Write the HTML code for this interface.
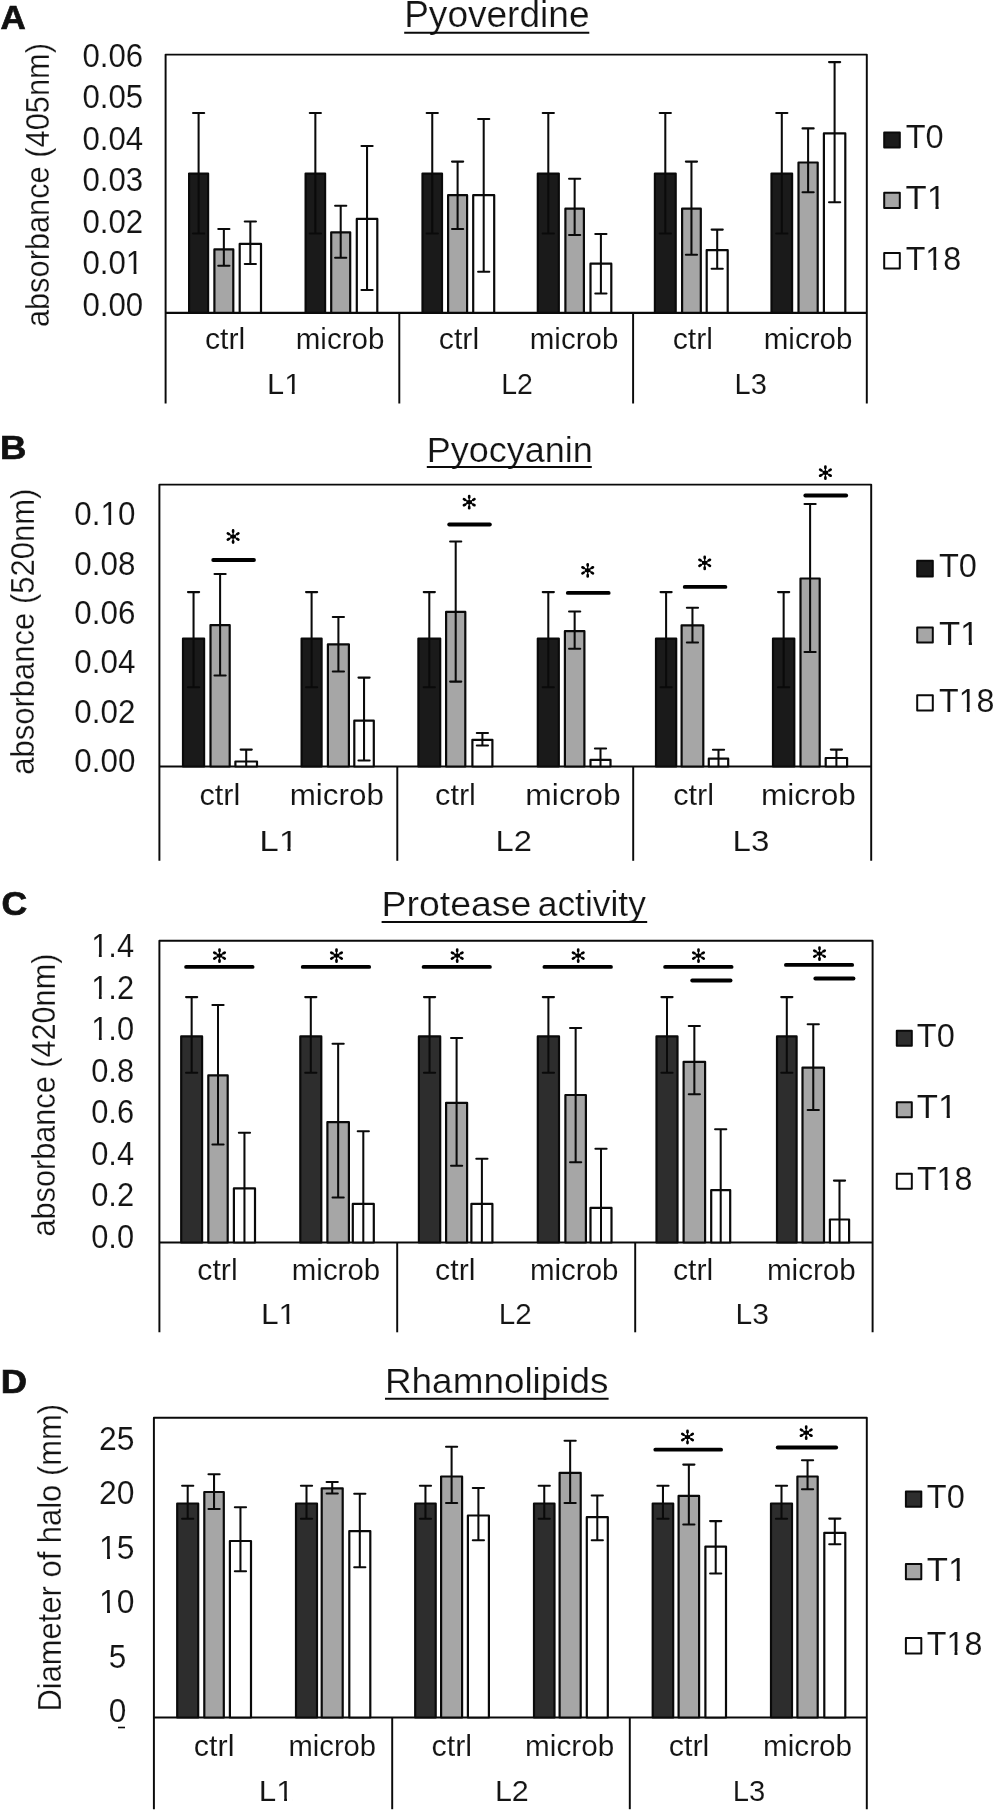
<!DOCTYPE html>
<html><head><meta charset="utf-8"><title>Figure</title>
<style>
html,body{margin:0;padding:0;background:#fff;}
body{width:995px;height:1811px;overflow:hidden;}
svg{display:block;will-change:transform;}
svg text{font-family:"Liberation Sans",sans-serif;}
</style></head><body>
<svg width="995" height="1811" viewBox="0 0 995 1811">
<rect x="0" y="0" width="995" height="1811" fill="#ffffff"/>
<path d="M165.60,403.50 V54.60 H866.80 V403.50" fill="none" stroke="#0a0a0a" stroke-width="1.95" stroke-linejoin="round"/>
<line x1="165.60" y1="312.80" x2="866.80" y2="312.80" stroke="#0a0a0a" stroke-width="2.15" stroke-linecap="butt"/>
<line x1="399.30" y1="312.80" x2="399.30" y2="403.50" stroke="#0a0a0a" stroke-width="1.95" stroke-linecap="butt"/>
<line x1="633.10" y1="312.80" x2="633.10" y2="403.50" stroke="#0a0a0a" stroke-width="1.95" stroke-linecap="butt"/>
<rect x="189.10" y="173.60" width="19.00" height="139.20" fill="#1a1a1a" stroke="#0a0a0a" stroke-width="2.2" stroke-linejoin="round"/>
<rect x="214.40" y="249.40" width="18.90" height="63.40" fill="#a6a6a6" stroke="#0a0a0a" stroke-width="2.2" stroke-linejoin="round"/>
<rect x="239.70" y="243.90" width="21.30" height="68.90" fill="#ffffff" stroke="#0a0a0a" stroke-width="2.2" stroke-linejoin="round"/>
<rect x="305.60" y="173.60" width="19.50" height="139.20" fill="#1a1a1a" stroke="#0a0a0a" stroke-width="2.2" stroke-linejoin="round"/>
<rect x="331.20" y="232.30" width="19.00" height="80.50" fill="#a6a6a6" stroke="#0a0a0a" stroke-width="2.2" stroke-linejoin="round"/>
<rect x="356.80" y="218.90" width="20.50" height="93.90" fill="#ffffff" stroke="#0a0a0a" stroke-width="2.2" stroke-linejoin="round"/>
<rect x="422.50" y="173.60" width="19.50" height="139.20" fill="#1a1a1a" stroke="#0a0a0a" stroke-width="2.2" stroke-linejoin="round"/>
<rect x="448.10" y="195.20" width="19.00" height="117.60" fill="#a6a6a6" stroke="#0a0a0a" stroke-width="2.2" stroke-linejoin="round"/>
<rect x="473.20" y="195.20" width="21.00" height="117.60" fill="#ffffff" stroke="#0a0a0a" stroke-width="2.2" stroke-linejoin="round"/>
<rect x="537.80" y="173.60" width="21.00" height="139.20" fill="#1a1a1a" stroke="#0a0a0a" stroke-width="2.2" stroke-linejoin="round"/>
<rect x="565.40" y="208.70" width="18.50" height="104.10" fill="#a6a6a6" stroke="#0a0a0a" stroke-width="2.2" stroke-linejoin="round"/>
<rect x="590.50" y="263.70" width="20.80" height="49.10" fill="#ffffff" stroke="#0a0a0a" stroke-width="2.2" stroke-linejoin="round"/>
<rect x="654.90" y="173.60" width="20.80" height="139.20" fill="#1a1a1a" stroke="#0a0a0a" stroke-width="2.2" stroke-linejoin="round"/>
<rect x="682.10" y="208.70" width="18.70" height="104.10" fill="#a6a6a6" stroke="#0a0a0a" stroke-width="2.2" stroke-linejoin="round"/>
<rect x="706.70" y="250.10" width="21.00" height="62.70" fill="#ffffff" stroke="#0a0a0a" stroke-width="2.2" stroke-linejoin="round"/>
<rect x="771.50" y="173.60" width="20.60" height="139.20" fill="#1a1a1a" stroke="#0a0a0a" stroke-width="2.2" stroke-linejoin="round"/>
<rect x="798.50" y="162.50" width="19.20" height="150.30" fill="#a6a6a6" stroke="#0a0a0a" stroke-width="2.2" stroke-linejoin="round"/>
<rect x="823.90" y="133.40" width="21.40" height="179.40" fill="#ffffff" stroke="#0a0a0a" stroke-width="2.2" stroke-linejoin="round"/>
<line x1="198.60" y1="112.90" x2="198.60" y2="233.50" stroke="#0a0a0a" stroke-width="2.05" stroke-linecap="butt"/>
<line x1="193.00" y1="112.90" x2="204.20" y2="112.90" stroke="#0a0a0a" stroke-width="2.05" stroke-linecap="round"/>
<line x1="193.00" y1="233.50" x2="204.20" y2="233.50" stroke="#0a0a0a" stroke-width="2.05" stroke-linecap="round"/>
<line x1="223.85" y1="228.90" x2="223.85" y2="265.80" stroke="#0a0a0a" stroke-width="2.05" stroke-linecap="butt"/>
<line x1="218.25" y1="228.90" x2="229.45" y2="228.90" stroke="#0a0a0a" stroke-width="2.05" stroke-linecap="round"/>
<line x1="218.25" y1="265.80" x2="229.45" y2="265.80" stroke="#0a0a0a" stroke-width="2.05" stroke-linecap="round"/>
<line x1="250.35" y1="221.40" x2="250.35" y2="264.00" stroke="#0a0a0a" stroke-width="2.05" stroke-linecap="butt"/>
<line x1="244.75" y1="221.40" x2="255.95" y2="221.40" stroke="#0a0a0a" stroke-width="2.05" stroke-linecap="round"/>
<line x1="244.75" y1="264.00" x2="255.95" y2="264.00" stroke="#0a0a0a" stroke-width="2.05" stroke-linecap="round"/>
<line x1="315.35" y1="112.90" x2="315.35" y2="233.50" stroke="#0a0a0a" stroke-width="2.05" stroke-linecap="butt"/>
<line x1="309.75" y1="112.90" x2="320.95" y2="112.90" stroke="#0a0a0a" stroke-width="2.05" stroke-linecap="round"/>
<line x1="309.75" y1="233.50" x2="320.95" y2="233.50" stroke="#0a0a0a" stroke-width="2.05" stroke-linecap="round"/>
<line x1="340.70" y1="205.80" x2="340.70" y2="257.70" stroke="#0a0a0a" stroke-width="2.05" stroke-linecap="butt"/>
<line x1="335.10" y1="205.80" x2="346.30" y2="205.80" stroke="#0a0a0a" stroke-width="2.05" stroke-linecap="round"/>
<line x1="335.10" y1="257.70" x2="346.30" y2="257.70" stroke="#0a0a0a" stroke-width="2.05" stroke-linecap="round"/>
<line x1="367.05" y1="146.00" x2="367.05" y2="289.90" stroke="#0a0a0a" stroke-width="2.05" stroke-linecap="butt"/>
<line x1="361.45" y1="146.00" x2="372.65" y2="146.00" stroke="#0a0a0a" stroke-width="2.05" stroke-linecap="round"/>
<line x1="361.45" y1="289.90" x2="372.65" y2="289.90" stroke="#0a0a0a" stroke-width="2.05" stroke-linecap="round"/>
<line x1="432.25" y1="112.90" x2="432.25" y2="233.50" stroke="#0a0a0a" stroke-width="2.05" stroke-linecap="butt"/>
<line x1="426.65" y1="112.90" x2="437.85" y2="112.90" stroke="#0a0a0a" stroke-width="2.05" stroke-linecap="round"/>
<line x1="426.65" y1="233.50" x2="437.85" y2="233.50" stroke="#0a0a0a" stroke-width="2.05" stroke-linecap="round"/>
<line x1="457.60" y1="161.60" x2="457.60" y2="228.90" stroke="#0a0a0a" stroke-width="2.05" stroke-linecap="butt"/>
<line x1="452.00" y1="161.60" x2="463.20" y2="161.60" stroke="#0a0a0a" stroke-width="2.05" stroke-linecap="round"/>
<line x1="452.00" y1="228.90" x2="463.20" y2="228.90" stroke="#0a0a0a" stroke-width="2.05" stroke-linecap="round"/>
<line x1="483.70" y1="118.90" x2="483.70" y2="271.80" stroke="#0a0a0a" stroke-width="2.05" stroke-linecap="butt"/>
<line x1="478.10" y1="118.90" x2="489.30" y2="118.90" stroke="#0a0a0a" stroke-width="2.05" stroke-linecap="round"/>
<line x1="478.10" y1="271.80" x2="489.30" y2="271.80" stroke="#0a0a0a" stroke-width="2.05" stroke-linecap="round"/>
<line x1="548.30" y1="112.90" x2="548.30" y2="233.50" stroke="#0a0a0a" stroke-width="2.05" stroke-linecap="butt"/>
<line x1="542.70" y1="112.90" x2="553.90" y2="112.90" stroke="#0a0a0a" stroke-width="2.05" stroke-linecap="round"/>
<line x1="542.70" y1="233.50" x2="553.90" y2="233.50" stroke="#0a0a0a" stroke-width="2.05" stroke-linecap="round"/>
<line x1="574.65" y1="178.70" x2="574.65" y2="235.00" stroke="#0a0a0a" stroke-width="2.05" stroke-linecap="butt"/>
<line x1="569.05" y1="178.70" x2="580.25" y2="178.70" stroke="#0a0a0a" stroke-width="2.05" stroke-linecap="round"/>
<line x1="569.05" y1="235.00" x2="580.25" y2="235.00" stroke="#0a0a0a" stroke-width="2.05" stroke-linecap="round"/>
<line x1="600.90" y1="233.90" x2="600.90" y2="293.40" stroke="#0a0a0a" stroke-width="2.05" stroke-linecap="butt"/>
<line x1="595.30" y1="233.90" x2="606.50" y2="233.90" stroke="#0a0a0a" stroke-width="2.05" stroke-linecap="round"/>
<line x1="595.30" y1="293.40" x2="606.50" y2="293.40" stroke="#0a0a0a" stroke-width="2.05" stroke-linecap="round"/>
<line x1="665.30" y1="112.90" x2="665.30" y2="233.50" stroke="#0a0a0a" stroke-width="2.05" stroke-linecap="butt"/>
<line x1="659.70" y1="112.90" x2="670.90" y2="112.90" stroke="#0a0a0a" stroke-width="2.05" stroke-linecap="round"/>
<line x1="659.70" y1="233.50" x2="670.90" y2="233.50" stroke="#0a0a0a" stroke-width="2.05" stroke-linecap="round"/>
<line x1="691.45" y1="161.60" x2="691.45" y2="254.70" stroke="#0a0a0a" stroke-width="2.05" stroke-linecap="butt"/>
<line x1="685.85" y1="161.60" x2="697.05" y2="161.60" stroke="#0a0a0a" stroke-width="2.05" stroke-linecap="round"/>
<line x1="685.85" y1="254.70" x2="697.05" y2="254.70" stroke="#0a0a0a" stroke-width="2.05" stroke-linecap="round"/>
<line x1="717.20" y1="229.60" x2="717.20" y2="268.80" stroke="#0a0a0a" stroke-width="2.05" stroke-linecap="butt"/>
<line x1="711.60" y1="229.60" x2="722.80" y2="229.60" stroke="#0a0a0a" stroke-width="2.05" stroke-linecap="round"/>
<line x1="711.60" y1="268.80" x2="722.80" y2="268.80" stroke="#0a0a0a" stroke-width="2.05" stroke-linecap="round"/>
<line x1="781.80" y1="112.90" x2="781.80" y2="233.50" stroke="#0a0a0a" stroke-width="2.05" stroke-linecap="butt"/>
<line x1="776.20" y1="112.90" x2="787.40" y2="112.90" stroke="#0a0a0a" stroke-width="2.05" stroke-linecap="round"/>
<line x1="776.20" y1="233.50" x2="787.40" y2="233.50" stroke="#0a0a0a" stroke-width="2.05" stroke-linecap="round"/>
<line x1="808.10" y1="128.40" x2="808.10" y2="192.30" stroke="#0a0a0a" stroke-width="2.05" stroke-linecap="butt"/>
<line x1="802.50" y1="128.40" x2="813.70" y2="128.40" stroke="#0a0a0a" stroke-width="2.05" stroke-linecap="round"/>
<line x1="802.50" y1="192.30" x2="813.70" y2="192.30" stroke="#0a0a0a" stroke-width="2.05" stroke-linecap="round"/>
<line x1="834.60" y1="62.10" x2="834.60" y2="202.30" stroke="#0a0a0a" stroke-width="2.05" stroke-linecap="butt"/>
<line x1="829.00" y1="62.10" x2="840.20" y2="62.10" stroke="#0a0a0a" stroke-width="2.05" stroke-linecap="round"/>
<line x1="829.00" y1="202.30" x2="840.20" y2="202.30" stroke="#0a0a0a" stroke-width="2.05" stroke-linecap="round"/>
<path d="M159.40,860.80 V484.60 H871.20 V860.80" fill="none" stroke="#0a0a0a" stroke-width="1.95" stroke-linejoin="round"/>
<line x1="159.40" y1="766.50" x2="871.20" y2="766.50" stroke="#0a0a0a" stroke-width="2.15" stroke-linecap="butt"/>
<line x1="397.30" y1="766.50" x2="397.30" y2="860.80" stroke="#0a0a0a" stroke-width="1.95" stroke-linecap="butt"/>
<line x1="633.20" y1="766.50" x2="633.20" y2="860.80" stroke="#0a0a0a" stroke-width="1.95" stroke-linecap="butt"/>
<rect x="183.00" y="638.60" width="21.10" height="127.90" fill="#1a1a1a" stroke="#0a0a0a" stroke-width="2.2" stroke-linejoin="round"/>
<rect x="210.50" y="625.10" width="19.20" height="141.40" fill="#a6a6a6" stroke="#0a0a0a" stroke-width="2.2" stroke-linejoin="round"/>
<rect x="235.40" y="761.50" width="21.60" height="5.00" fill="#ffffff" stroke="#0a0a0a" stroke-width="2.2" stroke-linejoin="round"/>
<rect x="301.60" y="638.60" width="20.00" height="127.90" fill="#1a1a1a" stroke="#0a0a0a" stroke-width="2.2" stroke-linejoin="round"/>
<rect x="327.90" y="644.30" width="21.00" height="122.20" fill="#a6a6a6" stroke="#0a0a0a" stroke-width="2.2" stroke-linejoin="round"/>
<rect x="354.30" y="720.70" width="19.50" height="45.80" fill="#ffffff" stroke="#0a0a0a" stroke-width="2.2" stroke-linejoin="round"/>
<rect x="418.40" y="638.60" width="21.80" height="127.90" fill="#1a1a1a" stroke="#0a0a0a" stroke-width="2.2" stroke-linejoin="round"/>
<rect x="446.10" y="611.90" width="19.20" height="154.60" fill="#a6a6a6" stroke="#0a0a0a" stroke-width="2.2" stroke-linejoin="round"/>
<rect x="472.40" y="739.80" width="20.00" height="26.70" fill="#ffffff" stroke="#0a0a0a" stroke-width="2.2" stroke-linejoin="round"/>
<rect x="537.80" y="638.60" width="21.00" height="127.90" fill="#1a1a1a" stroke="#0a0a0a" stroke-width="2.2" stroke-linejoin="round"/>
<rect x="564.90" y="631.20" width="19.50" height="135.30" fill="#a6a6a6" stroke="#0a0a0a" stroke-width="2.2" stroke-linejoin="round"/>
<rect x="590.50" y="759.90" width="20.00" height="6.60" fill="#ffffff" stroke="#0a0a0a" stroke-width="2.2" stroke-linejoin="round"/>
<rect x="656.00" y="638.60" width="20.20" height="127.90" fill="#1a1a1a" stroke="#0a0a0a" stroke-width="2.2" stroke-linejoin="round"/>
<rect x="681.60" y="625.30" width="21.70" height="141.20" fill="#a6a6a6" stroke="#0a0a0a" stroke-width="2.2" stroke-linejoin="round"/>
<rect x="708.80" y="758.70" width="19.40" height="7.80" fill="#ffffff" stroke="#0a0a0a" stroke-width="2.2" stroke-linejoin="round"/>
<rect x="773.00" y="638.60" width="21.30" height="127.90" fill="#1a1a1a" stroke="#0a0a0a" stroke-width="2.2" stroke-linejoin="round"/>
<rect x="800.50" y="578.50" width="19.20" height="188.00" fill="#a6a6a6" stroke="#0a0a0a" stroke-width="2.2" stroke-linejoin="round"/>
<rect x="825.70" y="758.00" width="21.40" height="8.50" fill="#ffffff" stroke="#0a0a0a" stroke-width="2.2" stroke-linejoin="round"/>
<line x1="193.55" y1="592.10" x2="193.55" y2="687.20" stroke="#0a0a0a" stroke-width="2.05" stroke-linecap="butt"/>
<line x1="187.95" y1="592.10" x2="199.15" y2="592.10" stroke="#0a0a0a" stroke-width="2.05" stroke-linecap="round"/>
<line x1="187.95" y1="687.20" x2="199.15" y2="687.20" stroke="#0a0a0a" stroke-width="2.05" stroke-linecap="round"/>
<line x1="220.10" y1="574.00" x2="220.10" y2="675.50" stroke="#0a0a0a" stroke-width="2.05" stroke-linecap="butt"/>
<line x1="214.50" y1="574.00" x2="225.70" y2="574.00" stroke="#0a0a0a" stroke-width="2.05" stroke-linecap="round"/>
<line x1="214.50" y1="675.50" x2="225.70" y2="675.50" stroke="#0a0a0a" stroke-width="2.05" stroke-linecap="round"/>
<line x1="246.20" y1="749.60" x2="246.20" y2="766.50" stroke="#0a0a0a" stroke-width="2.05" stroke-linecap="butt"/>
<line x1="240.60" y1="749.60" x2="251.80" y2="749.60" stroke="#0a0a0a" stroke-width="2.05" stroke-linecap="round"/>
<line x1="311.60" y1="592.10" x2="311.60" y2="687.20" stroke="#0a0a0a" stroke-width="2.05" stroke-linecap="butt"/>
<line x1="306.00" y1="592.10" x2="317.20" y2="592.10" stroke="#0a0a0a" stroke-width="2.05" stroke-linecap="round"/>
<line x1="306.00" y1="687.20" x2="317.20" y2="687.20" stroke="#0a0a0a" stroke-width="2.05" stroke-linecap="round"/>
<line x1="338.40" y1="617.00" x2="338.40" y2="671.50" stroke="#0a0a0a" stroke-width="2.05" stroke-linecap="butt"/>
<line x1="332.80" y1="617.00" x2="344.00" y2="617.00" stroke="#0a0a0a" stroke-width="2.05" stroke-linecap="round"/>
<line x1="332.80" y1="671.50" x2="344.00" y2="671.50" stroke="#0a0a0a" stroke-width="2.05" stroke-linecap="round"/>
<line x1="364.05" y1="677.60" x2="364.05" y2="760.50" stroke="#0a0a0a" stroke-width="2.05" stroke-linecap="butt"/>
<line x1="358.45" y1="677.60" x2="369.65" y2="677.60" stroke="#0a0a0a" stroke-width="2.05" stroke-linecap="round"/>
<line x1="358.45" y1="760.50" x2="369.65" y2="760.50" stroke="#0a0a0a" stroke-width="2.05" stroke-linecap="round"/>
<line x1="429.30" y1="592.10" x2="429.30" y2="687.20" stroke="#0a0a0a" stroke-width="2.05" stroke-linecap="butt"/>
<line x1="423.70" y1="592.10" x2="434.90" y2="592.10" stroke="#0a0a0a" stroke-width="2.05" stroke-linecap="round"/>
<line x1="423.70" y1="687.20" x2="434.90" y2="687.20" stroke="#0a0a0a" stroke-width="2.05" stroke-linecap="round"/>
<line x1="455.70" y1="541.40" x2="455.70" y2="681.60" stroke="#0a0a0a" stroke-width="2.05" stroke-linecap="butt"/>
<line x1="450.10" y1="541.40" x2="461.30" y2="541.40" stroke="#0a0a0a" stroke-width="2.05" stroke-linecap="round"/>
<line x1="450.10" y1="681.60" x2="461.30" y2="681.60" stroke="#0a0a0a" stroke-width="2.05" stroke-linecap="round"/>
<line x1="482.40" y1="732.90" x2="482.40" y2="745.40" stroke="#0a0a0a" stroke-width="2.05" stroke-linecap="butt"/>
<line x1="476.80" y1="732.90" x2="488.00" y2="732.90" stroke="#0a0a0a" stroke-width="2.05" stroke-linecap="round"/>
<line x1="476.80" y1="745.40" x2="488.00" y2="745.40" stroke="#0a0a0a" stroke-width="2.05" stroke-linecap="round"/>
<line x1="548.30" y1="592.10" x2="548.30" y2="687.20" stroke="#0a0a0a" stroke-width="2.05" stroke-linecap="butt"/>
<line x1="542.70" y1="592.10" x2="553.90" y2="592.10" stroke="#0a0a0a" stroke-width="2.05" stroke-linecap="round"/>
<line x1="542.70" y1="687.20" x2="553.90" y2="687.20" stroke="#0a0a0a" stroke-width="2.05" stroke-linecap="round"/>
<line x1="574.65" y1="611.50" x2="574.65" y2="648.80" stroke="#0a0a0a" stroke-width="2.05" stroke-linecap="butt"/>
<line x1="569.05" y1="611.50" x2="580.25" y2="611.50" stroke="#0a0a0a" stroke-width="2.05" stroke-linecap="round"/>
<line x1="569.05" y1="648.80" x2="580.25" y2="648.80" stroke="#0a0a0a" stroke-width="2.05" stroke-linecap="round"/>
<line x1="600.50" y1="748.40" x2="600.50" y2="766.50" stroke="#0a0a0a" stroke-width="2.05" stroke-linecap="butt"/>
<line x1="594.90" y1="748.40" x2="606.10" y2="748.40" stroke="#0a0a0a" stroke-width="2.05" stroke-linecap="round"/>
<line x1="666.10" y1="592.10" x2="666.10" y2="687.20" stroke="#0a0a0a" stroke-width="2.05" stroke-linecap="butt"/>
<line x1="660.50" y1="592.10" x2="671.70" y2="592.10" stroke="#0a0a0a" stroke-width="2.05" stroke-linecap="round"/>
<line x1="660.50" y1="687.20" x2="671.70" y2="687.20" stroke="#0a0a0a" stroke-width="2.05" stroke-linecap="round"/>
<line x1="692.45" y1="607.80" x2="692.45" y2="642.50" stroke="#0a0a0a" stroke-width="2.05" stroke-linecap="butt"/>
<line x1="686.85" y1="607.80" x2="698.05" y2="607.80" stroke="#0a0a0a" stroke-width="2.05" stroke-linecap="round"/>
<line x1="686.85" y1="642.50" x2="698.05" y2="642.50" stroke="#0a0a0a" stroke-width="2.05" stroke-linecap="round"/>
<line x1="718.50" y1="749.80" x2="718.50" y2="766.50" stroke="#0a0a0a" stroke-width="2.05" stroke-linecap="butt"/>
<line x1="712.90" y1="749.80" x2="724.10" y2="749.80" stroke="#0a0a0a" stroke-width="2.05" stroke-linecap="round"/>
<line x1="783.65" y1="592.10" x2="783.65" y2="687.20" stroke="#0a0a0a" stroke-width="2.05" stroke-linecap="butt"/>
<line x1="778.05" y1="592.10" x2="789.25" y2="592.10" stroke="#0a0a0a" stroke-width="2.05" stroke-linecap="round"/>
<line x1="778.05" y1="687.20" x2="789.25" y2="687.20" stroke="#0a0a0a" stroke-width="2.05" stroke-linecap="round"/>
<line x1="810.10" y1="504.00" x2="810.10" y2="652.00" stroke="#0a0a0a" stroke-width="2.05" stroke-linecap="butt"/>
<line x1="804.50" y1="504.00" x2="815.70" y2="504.00" stroke="#0a0a0a" stroke-width="2.05" stroke-linecap="round"/>
<line x1="804.50" y1="652.00" x2="815.70" y2="652.00" stroke="#0a0a0a" stroke-width="2.05" stroke-linecap="round"/>
<line x1="836.40" y1="749.60" x2="836.40" y2="766.50" stroke="#0a0a0a" stroke-width="2.05" stroke-linecap="butt"/>
<line x1="830.80" y1="749.60" x2="842.00" y2="749.60" stroke="#0a0a0a" stroke-width="2.05" stroke-linecap="round"/>
<path d="M159.40,1332.30 V940.70 H872.60 V1332.30" fill="none" stroke="#0a0a0a" stroke-width="1.95" stroke-linejoin="round"/>
<line x1="159.40" y1="1242.50" x2="872.60" y2="1242.50" stroke="#0a0a0a" stroke-width="2.15" stroke-linecap="butt"/>
<line x1="397.20" y1="1242.50" x2="397.20" y2="1332.30" stroke="#0a0a0a" stroke-width="1.95" stroke-linecap="butt"/>
<line x1="635.20" y1="1242.50" x2="635.20" y2="1332.30" stroke="#0a0a0a" stroke-width="1.95" stroke-linecap="butt"/>
<rect x="181.20" y="1036.40" width="20.90" height="206.10" fill="#2d2d2d" stroke="#0a0a0a" stroke-width="2.2" stroke-linejoin="round"/>
<rect x="208.30" y="1075.40" width="19.40" height="167.10" fill="#a6a6a6" stroke="#0a0a0a" stroke-width="2.2" stroke-linejoin="round"/>
<rect x="233.90" y="1188.40" width="21.10" height="54.10" fill="#ffffff" stroke="#0a0a0a" stroke-width="2.2" stroke-linejoin="round"/>
<rect x="300.30" y="1036.40" width="21.00" height="206.10" fill="#2d2d2d" stroke="#0a0a0a" stroke-width="2.2" stroke-linejoin="round"/>
<rect x="327.40" y="1122.10" width="21.50" height="120.40" fill="#a6a6a6" stroke="#0a0a0a" stroke-width="2.2" stroke-linejoin="round"/>
<rect x="352.80" y="1203.90" width="21.00" height="38.60" fill="#ffffff" stroke="#0a0a0a" stroke-width="2.2" stroke-linejoin="round"/>
<rect x="418.90" y="1036.40" width="21.30" height="206.10" fill="#2d2d2d" stroke="#0a0a0a" stroke-width="2.2" stroke-linejoin="round"/>
<rect x="446.10" y="1102.80" width="21.00" height="139.70" fill="#a6a6a6" stroke="#0a0a0a" stroke-width="2.2" stroke-linejoin="round"/>
<rect x="471.40" y="1203.90" width="21.00" height="38.60" fill="#ffffff" stroke="#0a0a0a" stroke-width="2.2" stroke-linejoin="round"/>
<rect x="537.80" y="1036.40" width="21.20" height="206.10" fill="#2d2d2d" stroke="#0a0a0a" stroke-width="2.2" stroke-linejoin="round"/>
<rect x="565.40" y="1095.00" width="20.50" height="147.50" fill="#a6a6a6" stroke="#0a0a0a" stroke-width="2.2" stroke-linejoin="round"/>
<rect x="590.50" y="1207.90" width="21.00" height="34.60" fill="#ffffff" stroke="#0a0a0a" stroke-width="2.2" stroke-linejoin="round"/>
<rect x="656.50" y="1036.40" width="21.00" height="206.10" fill="#2d2d2d" stroke="#0a0a0a" stroke-width="2.2" stroke-linejoin="round"/>
<rect x="683.60" y="1061.80" width="21.50" height="180.70" fill="#a6a6a6" stroke="#0a0a0a" stroke-width="2.2" stroke-linejoin="round"/>
<rect x="711.20" y="1190.20" width="19.00" height="52.30" fill="#ffffff" stroke="#0a0a0a" stroke-width="2.2" stroke-linejoin="round"/>
<rect x="777.00" y="1036.40" width="19.60" height="206.10" fill="#2d2d2d" stroke="#0a0a0a" stroke-width="2.2" stroke-linejoin="round"/>
<rect x="802.50" y="1067.60" width="21.50" height="174.90" fill="#a6a6a6" stroke="#0a0a0a" stroke-width="2.2" stroke-linejoin="round"/>
<rect x="829.90" y="1219.50" width="19.20" height="23.00" fill="#ffffff" stroke="#0a0a0a" stroke-width="2.2" stroke-linejoin="round"/>
<line x1="191.65" y1="997.10" x2="191.65" y2="1072.70" stroke="#0a0a0a" stroke-width="2.05" stroke-linecap="butt"/>
<line x1="186.05" y1="997.10" x2="197.25" y2="997.10" stroke="#0a0a0a" stroke-width="2.05" stroke-linecap="round"/>
<line x1="186.05" y1="1072.70" x2="197.25" y2="1072.70" stroke="#0a0a0a" stroke-width="2.05" stroke-linecap="round"/>
<line x1="218.00" y1="1004.90" x2="218.00" y2="1144.50" stroke="#0a0a0a" stroke-width="2.05" stroke-linecap="butt"/>
<line x1="212.40" y1="1004.90" x2="223.60" y2="1004.90" stroke="#0a0a0a" stroke-width="2.05" stroke-linecap="round"/>
<line x1="212.40" y1="1144.50" x2="223.60" y2="1144.50" stroke="#0a0a0a" stroke-width="2.05" stroke-linecap="round"/>
<line x1="244.45" y1="1132.80" x2="244.45" y2="1242.50" stroke="#0a0a0a" stroke-width="2.05" stroke-linecap="butt"/>
<line x1="238.85" y1="1132.80" x2="250.05" y2="1132.80" stroke="#0a0a0a" stroke-width="2.05" stroke-linecap="round"/>
<line x1="310.80" y1="997.10" x2="310.80" y2="1072.70" stroke="#0a0a0a" stroke-width="2.05" stroke-linecap="butt"/>
<line x1="305.20" y1="997.10" x2="316.40" y2="997.10" stroke="#0a0a0a" stroke-width="2.05" stroke-linecap="round"/>
<line x1="305.20" y1="1072.70" x2="316.40" y2="1072.70" stroke="#0a0a0a" stroke-width="2.05" stroke-linecap="round"/>
<line x1="338.15" y1="1043.80" x2="338.15" y2="1197.40" stroke="#0a0a0a" stroke-width="2.05" stroke-linecap="butt"/>
<line x1="332.55" y1="1043.80" x2="343.75" y2="1043.80" stroke="#0a0a0a" stroke-width="2.05" stroke-linecap="round"/>
<line x1="332.55" y1="1197.40" x2="343.75" y2="1197.40" stroke="#0a0a0a" stroke-width="2.05" stroke-linecap="round"/>
<line x1="363.30" y1="1131.30" x2="363.30" y2="1242.50" stroke="#0a0a0a" stroke-width="2.05" stroke-linecap="butt"/>
<line x1="357.70" y1="1131.30" x2="368.90" y2="1131.30" stroke="#0a0a0a" stroke-width="2.05" stroke-linecap="round"/>
<line x1="429.55" y1="997.10" x2="429.55" y2="1072.70" stroke="#0a0a0a" stroke-width="2.05" stroke-linecap="butt"/>
<line x1="423.95" y1="997.10" x2="435.15" y2="997.10" stroke="#0a0a0a" stroke-width="2.05" stroke-linecap="round"/>
<line x1="423.95" y1="1072.70" x2="435.15" y2="1072.70" stroke="#0a0a0a" stroke-width="2.05" stroke-linecap="round"/>
<line x1="456.60" y1="1038.00" x2="456.60" y2="1165.80" stroke="#0a0a0a" stroke-width="2.05" stroke-linecap="butt"/>
<line x1="451.00" y1="1038.00" x2="462.20" y2="1038.00" stroke="#0a0a0a" stroke-width="2.05" stroke-linecap="round"/>
<line x1="451.00" y1="1165.80" x2="462.20" y2="1165.80" stroke="#0a0a0a" stroke-width="2.05" stroke-linecap="round"/>
<line x1="481.90" y1="1158.70" x2="481.90" y2="1242.50" stroke="#0a0a0a" stroke-width="2.05" stroke-linecap="butt"/>
<line x1="476.30" y1="1158.70" x2="487.50" y2="1158.70" stroke="#0a0a0a" stroke-width="2.05" stroke-linecap="round"/>
<line x1="548.40" y1="997.10" x2="548.40" y2="1072.70" stroke="#0a0a0a" stroke-width="2.05" stroke-linecap="butt"/>
<line x1="542.80" y1="997.10" x2="554.00" y2="997.10" stroke="#0a0a0a" stroke-width="2.05" stroke-linecap="round"/>
<line x1="542.80" y1="1072.70" x2="554.00" y2="1072.70" stroke="#0a0a0a" stroke-width="2.05" stroke-linecap="round"/>
<line x1="575.65" y1="1028.00" x2="575.65" y2="1162.30" stroke="#0a0a0a" stroke-width="2.05" stroke-linecap="butt"/>
<line x1="570.05" y1="1028.00" x2="581.25" y2="1028.00" stroke="#0a0a0a" stroke-width="2.05" stroke-linecap="round"/>
<line x1="570.05" y1="1162.30" x2="581.25" y2="1162.30" stroke="#0a0a0a" stroke-width="2.05" stroke-linecap="round"/>
<line x1="601.00" y1="1148.70" x2="601.00" y2="1242.50" stroke="#0a0a0a" stroke-width="2.05" stroke-linecap="butt"/>
<line x1="595.40" y1="1148.70" x2="606.60" y2="1148.70" stroke="#0a0a0a" stroke-width="2.05" stroke-linecap="round"/>
<line x1="667.00" y1="997.10" x2="667.00" y2="1072.70" stroke="#0a0a0a" stroke-width="2.05" stroke-linecap="butt"/>
<line x1="661.40" y1="997.10" x2="672.60" y2="997.10" stroke="#0a0a0a" stroke-width="2.05" stroke-linecap="round"/>
<line x1="661.40" y1="1072.70" x2="672.60" y2="1072.70" stroke="#0a0a0a" stroke-width="2.05" stroke-linecap="round"/>
<line x1="694.35" y1="1026.00" x2="694.35" y2="1094.30" stroke="#0a0a0a" stroke-width="2.05" stroke-linecap="butt"/>
<line x1="688.75" y1="1026.00" x2="699.95" y2="1026.00" stroke="#0a0a0a" stroke-width="2.05" stroke-linecap="round"/>
<line x1="688.75" y1="1094.30" x2="699.95" y2="1094.30" stroke="#0a0a0a" stroke-width="2.05" stroke-linecap="round"/>
<line x1="720.70" y1="1129.30" x2="720.70" y2="1242.50" stroke="#0a0a0a" stroke-width="2.05" stroke-linecap="butt"/>
<line x1="715.10" y1="1129.30" x2="726.30" y2="1129.30" stroke="#0a0a0a" stroke-width="2.05" stroke-linecap="round"/>
<line x1="786.80" y1="997.10" x2="786.80" y2="1072.70" stroke="#0a0a0a" stroke-width="2.05" stroke-linecap="butt"/>
<line x1="781.20" y1="997.10" x2="792.40" y2="997.10" stroke="#0a0a0a" stroke-width="2.05" stroke-linecap="round"/>
<line x1="781.20" y1="1072.70" x2="792.40" y2="1072.70" stroke="#0a0a0a" stroke-width="2.05" stroke-linecap="round"/>
<line x1="813.25" y1="1024.20" x2="813.25" y2="1109.90" stroke="#0a0a0a" stroke-width="2.05" stroke-linecap="butt"/>
<line x1="807.65" y1="1024.20" x2="818.85" y2="1024.20" stroke="#0a0a0a" stroke-width="2.05" stroke-linecap="round"/>
<line x1="807.65" y1="1109.90" x2="818.85" y2="1109.90" stroke="#0a0a0a" stroke-width="2.05" stroke-linecap="round"/>
<line x1="839.50" y1="1180.60" x2="839.50" y2="1242.50" stroke="#0a0a0a" stroke-width="2.05" stroke-linecap="butt"/>
<line x1="833.90" y1="1180.60" x2="845.10" y2="1180.60" stroke="#0a0a0a" stroke-width="2.05" stroke-linecap="round"/>
<path d="M153.90,1809.20 V1417.70 H866.80 V1809.20" fill="none" stroke="#0a0a0a" stroke-width="1.95" stroke-linejoin="round"/>
<line x1="153.90" y1="1717.50" x2="866.80" y2="1717.50" stroke="#0a0a0a" stroke-width="2.15" stroke-linecap="butt"/>
<line x1="392.20" y1="1717.50" x2="392.20" y2="1809.20" stroke="#0a0a0a" stroke-width="1.95" stroke-linecap="butt"/>
<line x1="629.80" y1="1717.50" x2="629.80" y2="1809.20" stroke="#0a0a0a" stroke-width="1.95" stroke-linecap="butt"/>
<rect x="177.20" y="1503.50" width="21.00" height="214.00" fill="#2d2d2d" stroke="#0a0a0a" stroke-width="2.2" stroke-linejoin="round"/>
<rect x="204.30" y="1492.00" width="19.50" height="225.50" fill="#a6a6a6" stroke="#0a0a0a" stroke-width="2.2" stroke-linejoin="round"/>
<rect x="229.90" y="1541.00" width="21.10" height="176.50" fill="#ffffff" stroke="#0a0a0a" stroke-width="2.2" stroke-linejoin="round"/>
<rect x="296.00" y="1503.50" width="21.00" height="214.00" fill="#2d2d2d" stroke="#0a0a0a" stroke-width="2.2" stroke-linejoin="round"/>
<rect x="321.70" y="1488.30" width="21.00" height="229.20" fill="#a6a6a6" stroke="#0a0a0a" stroke-width="2.2" stroke-linejoin="round"/>
<rect x="349.30" y="1531.10" width="21.00" height="186.40" fill="#ffffff" stroke="#0a0a0a" stroke-width="2.2" stroke-linejoin="round"/>
<rect x="415.20" y="1503.50" width="20.50" height="214.00" fill="#2d2d2d" stroke="#0a0a0a" stroke-width="2.2" stroke-linejoin="round"/>
<rect x="441.10" y="1476.50" width="21.00" height="241.00" fill="#a6a6a6" stroke="#0a0a0a" stroke-width="2.2" stroke-linejoin="round"/>
<rect x="467.90" y="1515.50" width="21.00" height="202.00" fill="#ffffff" stroke="#0a0a0a" stroke-width="2.2" stroke-linejoin="round"/>
<rect x="534.00" y="1503.50" width="20.50" height="214.00" fill="#2d2d2d" stroke="#0a0a0a" stroke-width="2.2" stroke-linejoin="round"/>
<rect x="559.60" y="1472.80" width="21.10" height="244.70" fill="#a6a6a6" stroke="#0a0a0a" stroke-width="2.2" stroke-linejoin="round"/>
<rect x="586.80" y="1517.20" width="21.00" height="200.30" fill="#ffffff" stroke="#0a0a0a" stroke-width="2.2" stroke-linejoin="round"/>
<rect x="652.70" y="1503.50" width="20.50" height="214.00" fill="#2d2d2d" stroke="#0a0a0a" stroke-width="2.2" stroke-linejoin="round"/>
<rect x="678.60" y="1495.90" width="20.50" height="221.60" fill="#a6a6a6" stroke="#0a0a0a" stroke-width="2.2" stroke-linejoin="round"/>
<rect x="705.40" y="1546.60" width="20.60" height="170.90" fill="#ffffff" stroke="#0a0a0a" stroke-width="2.2" stroke-linejoin="round"/>
<rect x="771.00" y="1503.50" width="21.00" height="214.00" fill="#2d2d2d" stroke="#0a0a0a" stroke-width="2.2" stroke-linejoin="round"/>
<rect x="797.40" y="1476.50" width="20.30" height="241.00" fill="#a6a6a6" stroke="#0a0a0a" stroke-width="2.2" stroke-linejoin="round"/>
<rect x="824.30" y="1532.80" width="21.00" height="184.70" fill="#ffffff" stroke="#0a0a0a" stroke-width="2.2" stroke-linejoin="round"/>
<line x1="187.70" y1="1485.80" x2="187.70" y2="1518.70" stroke="#0a0a0a" stroke-width="2.05" stroke-linecap="butt"/>
<line x1="182.10" y1="1485.80" x2="193.30" y2="1485.80" stroke="#0a0a0a" stroke-width="2.05" stroke-linecap="round"/>
<line x1="182.10" y1="1518.70" x2="193.30" y2="1518.70" stroke="#0a0a0a" stroke-width="2.05" stroke-linecap="round"/>
<line x1="214.05" y1="1474.20" x2="214.05" y2="1508.90" stroke="#0a0a0a" stroke-width="2.05" stroke-linecap="butt"/>
<line x1="208.45" y1="1474.20" x2="219.65" y2="1474.20" stroke="#0a0a0a" stroke-width="2.05" stroke-linecap="round"/>
<line x1="208.45" y1="1508.90" x2="219.65" y2="1508.90" stroke="#0a0a0a" stroke-width="2.05" stroke-linecap="round"/>
<line x1="240.45" y1="1507.20" x2="240.45" y2="1571.20" stroke="#0a0a0a" stroke-width="2.05" stroke-linecap="butt"/>
<line x1="234.85" y1="1507.20" x2="246.05" y2="1507.20" stroke="#0a0a0a" stroke-width="2.05" stroke-linecap="round"/>
<line x1="234.85" y1="1571.20" x2="246.05" y2="1571.20" stroke="#0a0a0a" stroke-width="2.05" stroke-linecap="round"/>
<line x1="306.50" y1="1485.80" x2="306.50" y2="1518.70" stroke="#0a0a0a" stroke-width="2.05" stroke-linecap="butt"/>
<line x1="300.90" y1="1485.80" x2="312.10" y2="1485.80" stroke="#0a0a0a" stroke-width="2.05" stroke-linecap="round"/>
<line x1="300.90" y1="1518.70" x2="312.10" y2="1518.70" stroke="#0a0a0a" stroke-width="2.05" stroke-linecap="round"/>
<line x1="332.20" y1="1481.90" x2="332.20" y2="1493.50" stroke="#0a0a0a" stroke-width="2.05" stroke-linecap="butt"/>
<line x1="326.60" y1="1481.90" x2="337.80" y2="1481.90" stroke="#0a0a0a" stroke-width="2.05" stroke-linecap="round"/>
<line x1="326.60" y1="1493.50" x2="337.80" y2="1493.50" stroke="#0a0a0a" stroke-width="2.05" stroke-linecap="round"/>
<line x1="359.80" y1="1493.70" x2="359.80" y2="1567.30" stroke="#0a0a0a" stroke-width="2.05" stroke-linecap="butt"/>
<line x1="354.20" y1="1493.70" x2="365.40" y2="1493.70" stroke="#0a0a0a" stroke-width="2.05" stroke-linecap="round"/>
<line x1="354.20" y1="1567.30" x2="365.40" y2="1567.30" stroke="#0a0a0a" stroke-width="2.05" stroke-linecap="round"/>
<line x1="425.45" y1="1485.80" x2="425.45" y2="1518.70" stroke="#0a0a0a" stroke-width="2.05" stroke-linecap="butt"/>
<line x1="419.85" y1="1485.80" x2="431.05" y2="1485.80" stroke="#0a0a0a" stroke-width="2.05" stroke-linecap="round"/>
<line x1="419.85" y1="1518.70" x2="431.05" y2="1518.70" stroke="#0a0a0a" stroke-width="2.05" stroke-linecap="round"/>
<line x1="451.60" y1="1446.70" x2="451.60" y2="1503.00" stroke="#0a0a0a" stroke-width="2.05" stroke-linecap="butt"/>
<line x1="446.00" y1="1446.70" x2="457.20" y2="1446.70" stroke="#0a0a0a" stroke-width="2.05" stroke-linecap="round"/>
<line x1="446.00" y1="1503.00" x2="457.20" y2="1503.00" stroke="#0a0a0a" stroke-width="2.05" stroke-linecap="round"/>
<line x1="478.40" y1="1487.90" x2="478.40" y2="1540.20" stroke="#0a0a0a" stroke-width="2.05" stroke-linecap="butt"/>
<line x1="472.80" y1="1487.90" x2="484.00" y2="1487.90" stroke="#0a0a0a" stroke-width="2.05" stroke-linecap="round"/>
<line x1="472.80" y1="1540.20" x2="484.00" y2="1540.20" stroke="#0a0a0a" stroke-width="2.05" stroke-linecap="round"/>
<line x1="544.25" y1="1485.80" x2="544.25" y2="1518.70" stroke="#0a0a0a" stroke-width="2.05" stroke-linecap="butt"/>
<line x1="538.65" y1="1485.80" x2="549.85" y2="1485.80" stroke="#0a0a0a" stroke-width="2.05" stroke-linecap="round"/>
<line x1="538.65" y1="1518.70" x2="549.85" y2="1518.70" stroke="#0a0a0a" stroke-width="2.05" stroke-linecap="round"/>
<line x1="570.15" y1="1440.70" x2="570.15" y2="1503.00" stroke="#0a0a0a" stroke-width="2.05" stroke-linecap="butt"/>
<line x1="564.55" y1="1440.70" x2="575.75" y2="1440.70" stroke="#0a0a0a" stroke-width="2.05" stroke-linecap="round"/>
<line x1="564.55" y1="1503.00" x2="575.75" y2="1503.00" stroke="#0a0a0a" stroke-width="2.05" stroke-linecap="round"/>
<line x1="597.30" y1="1495.50" x2="597.30" y2="1540.20" stroke="#0a0a0a" stroke-width="2.05" stroke-linecap="butt"/>
<line x1="591.70" y1="1495.50" x2="602.90" y2="1495.50" stroke="#0a0a0a" stroke-width="2.05" stroke-linecap="round"/>
<line x1="591.70" y1="1540.20" x2="602.90" y2="1540.20" stroke="#0a0a0a" stroke-width="2.05" stroke-linecap="round"/>
<line x1="662.95" y1="1485.80" x2="662.95" y2="1518.70" stroke="#0a0a0a" stroke-width="2.05" stroke-linecap="butt"/>
<line x1="657.35" y1="1485.80" x2="668.55" y2="1485.80" stroke="#0a0a0a" stroke-width="2.05" stroke-linecap="round"/>
<line x1="657.35" y1="1518.70" x2="668.55" y2="1518.70" stroke="#0a0a0a" stroke-width="2.05" stroke-linecap="round"/>
<line x1="688.85" y1="1464.60" x2="688.85" y2="1524.40" stroke="#0a0a0a" stroke-width="2.05" stroke-linecap="butt"/>
<line x1="683.25" y1="1464.60" x2="694.45" y2="1464.60" stroke="#0a0a0a" stroke-width="2.05" stroke-linecap="round"/>
<line x1="683.25" y1="1524.40" x2="694.45" y2="1524.40" stroke="#0a0a0a" stroke-width="2.05" stroke-linecap="round"/>
<line x1="715.70" y1="1521.10" x2="715.70" y2="1573.40" stroke="#0a0a0a" stroke-width="2.05" stroke-linecap="butt"/>
<line x1="710.10" y1="1521.10" x2="721.30" y2="1521.10" stroke="#0a0a0a" stroke-width="2.05" stroke-linecap="round"/>
<line x1="710.10" y1="1573.40" x2="721.30" y2="1573.40" stroke="#0a0a0a" stroke-width="2.05" stroke-linecap="round"/>
<line x1="781.50" y1="1485.80" x2="781.50" y2="1518.70" stroke="#0a0a0a" stroke-width="2.05" stroke-linecap="butt"/>
<line x1="775.90" y1="1485.80" x2="787.10" y2="1485.80" stroke="#0a0a0a" stroke-width="2.05" stroke-linecap="round"/>
<line x1="775.90" y1="1518.70" x2="787.10" y2="1518.70" stroke="#0a0a0a" stroke-width="2.05" stroke-linecap="round"/>
<line x1="807.55" y1="1460.30" x2="807.55" y2="1489.20" stroke="#0a0a0a" stroke-width="2.05" stroke-linecap="butt"/>
<line x1="801.95" y1="1460.30" x2="813.15" y2="1460.30" stroke="#0a0a0a" stroke-width="2.05" stroke-linecap="round"/>
<line x1="801.95" y1="1489.20" x2="813.15" y2="1489.20" stroke="#0a0a0a" stroke-width="2.05" stroke-linecap="round"/>
<line x1="834.80" y1="1518.60" x2="834.80" y2="1544.20" stroke="#0a0a0a" stroke-width="2.05" stroke-linecap="butt"/>
<line x1="829.20" y1="1518.60" x2="840.40" y2="1518.60" stroke="#0a0a0a" stroke-width="2.05" stroke-linecap="round"/>
<line x1="829.20" y1="1544.20" x2="840.40" y2="1544.20" stroke="#0a0a0a" stroke-width="2.05" stroke-linecap="round"/>
<line x1="213.20" y1="560.00" x2="254.00" y2="560.00" stroke="#000" stroke-width="3.8" stroke-linecap="round"/>
<line x1="233.10" y1="536.50" x2="233.10" y2="530.60" stroke="#000" stroke-width="1.25" stroke-linecap="butt"/>
<line x1="233.10" y1="531.80" x2="233.10" y2="530.40" stroke="#000" stroke-width="2.6" stroke-linecap="round"/>
<line x1="233.10" y1="536.50" x2="238.21" y2="533.55" stroke="#000" stroke-width="1.25" stroke-linecap="butt"/>
<line x1="237.17" y1="534.15" x2="238.38" y2="533.45" stroke="#000" stroke-width="2.6" stroke-linecap="round"/>
<line x1="233.10" y1="536.50" x2="227.99" y2="533.55" stroke="#000" stroke-width="1.25" stroke-linecap="butt"/>
<line x1="229.03" y1="534.15" x2="227.82" y2="533.45" stroke="#000" stroke-width="2.6" stroke-linecap="round"/>
<line x1="233.10" y1="536.50" x2="233.10" y2="542.40" stroke="#000" stroke-width="1.25" stroke-linecap="butt"/>
<line x1="233.10" y1="541.20" x2="233.10" y2="542.60" stroke="#000" stroke-width="2.6" stroke-linecap="round"/>
<line x1="233.10" y1="536.50" x2="227.99" y2="539.45" stroke="#000" stroke-width="1.25" stroke-linecap="butt"/>
<line x1="229.03" y1="538.85" x2="227.82" y2="539.55" stroke="#000" stroke-width="2.6" stroke-linecap="round"/>
<line x1="233.10" y1="536.50" x2="238.21" y2="539.45" stroke="#000" stroke-width="1.25" stroke-linecap="butt"/>
<line x1="237.17" y1="538.85" x2="238.38" y2="539.55" stroke="#000" stroke-width="2.6" stroke-linecap="round"/>
<ellipse cx="233.10" cy="536.50" rx="2.9" ry="2.1" fill="#000"/>
<line x1="449.20" y1="524.50" x2="489.90" y2="524.50" stroke="#000" stroke-width="3.8" stroke-linecap="round"/>
<line x1="469.20" y1="502.20" x2="469.20" y2="496.30" stroke="#000" stroke-width="1.25" stroke-linecap="butt"/>
<line x1="469.20" y1="497.50" x2="469.20" y2="496.10" stroke="#000" stroke-width="2.6" stroke-linecap="round"/>
<line x1="469.20" y1="502.20" x2="474.31" y2="499.25" stroke="#000" stroke-width="1.25" stroke-linecap="butt"/>
<line x1="473.27" y1="499.85" x2="474.48" y2="499.15" stroke="#000" stroke-width="2.6" stroke-linecap="round"/>
<line x1="469.20" y1="502.20" x2="464.09" y2="499.25" stroke="#000" stroke-width="1.25" stroke-linecap="butt"/>
<line x1="465.13" y1="499.85" x2="463.92" y2="499.15" stroke="#000" stroke-width="2.6" stroke-linecap="round"/>
<line x1="469.20" y1="502.20" x2="469.20" y2="508.10" stroke="#000" stroke-width="1.25" stroke-linecap="butt"/>
<line x1="469.20" y1="506.90" x2="469.20" y2="508.30" stroke="#000" stroke-width="2.6" stroke-linecap="round"/>
<line x1="469.20" y1="502.20" x2="464.09" y2="505.15" stroke="#000" stroke-width="1.25" stroke-linecap="butt"/>
<line x1="465.13" y1="504.55" x2="463.92" y2="505.25" stroke="#000" stroke-width="2.6" stroke-linecap="round"/>
<line x1="469.20" y1="502.20" x2="474.31" y2="505.15" stroke="#000" stroke-width="1.25" stroke-linecap="butt"/>
<line x1="473.27" y1="504.55" x2="474.48" y2="505.25" stroke="#000" stroke-width="2.6" stroke-linecap="round"/>
<ellipse cx="469.20" cy="502.20" rx="2.9" ry="2.1" fill="#000"/>
<line x1="567.80" y1="592.90" x2="608.70" y2="592.90" stroke="#000" stroke-width="3.8" stroke-linecap="round"/>
<line x1="587.70" y1="570.30" x2="587.70" y2="564.40" stroke="#000" stroke-width="1.25" stroke-linecap="butt"/>
<line x1="587.70" y1="565.60" x2="587.70" y2="564.20" stroke="#000" stroke-width="2.6" stroke-linecap="round"/>
<line x1="587.70" y1="570.30" x2="592.81" y2="567.35" stroke="#000" stroke-width="1.25" stroke-linecap="butt"/>
<line x1="591.77" y1="567.95" x2="592.98" y2="567.25" stroke="#000" stroke-width="2.6" stroke-linecap="round"/>
<line x1="587.70" y1="570.30" x2="582.59" y2="567.35" stroke="#000" stroke-width="1.25" stroke-linecap="butt"/>
<line x1="583.63" y1="567.95" x2="582.42" y2="567.25" stroke="#000" stroke-width="2.6" stroke-linecap="round"/>
<line x1="587.70" y1="570.30" x2="587.70" y2="576.20" stroke="#000" stroke-width="1.25" stroke-linecap="butt"/>
<line x1="587.70" y1="575.00" x2="587.70" y2="576.40" stroke="#000" stroke-width="2.6" stroke-linecap="round"/>
<line x1="587.70" y1="570.30" x2="582.59" y2="573.25" stroke="#000" stroke-width="1.25" stroke-linecap="butt"/>
<line x1="583.63" y1="572.65" x2="582.42" y2="573.35" stroke="#000" stroke-width="2.6" stroke-linecap="round"/>
<line x1="587.70" y1="570.30" x2="592.81" y2="573.25" stroke="#000" stroke-width="1.25" stroke-linecap="butt"/>
<line x1="591.77" y1="572.65" x2="592.98" y2="573.35" stroke="#000" stroke-width="2.6" stroke-linecap="round"/>
<ellipse cx="587.70" cy="570.30" rx="2.9" ry="2.1" fill="#000"/>
<line x1="684.70" y1="586.90" x2="725.40" y2="586.90" stroke="#000" stroke-width="3.8" stroke-linecap="round"/>
<line x1="704.70" y1="562.80" x2="704.70" y2="556.90" stroke="#000" stroke-width="1.25" stroke-linecap="butt"/>
<line x1="704.70" y1="558.10" x2="704.70" y2="556.70" stroke="#000" stroke-width="2.6" stroke-linecap="round"/>
<line x1="704.70" y1="562.80" x2="709.81" y2="559.85" stroke="#000" stroke-width="1.25" stroke-linecap="butt"/>
<line x1="708.77" y1="560.45" x2="709.98" y2="559.75" stroke="#000" stroke-width="2.6" stroke-linecap="round"/>
<line x1="704.70" y1="562.80" x2="699.59" y2="559.85" stroke="#000" stroke-width="1.25" stroke-linecap="butt"/>
<line x1="700.63" y1="560.45" x2="699.42" y2="559.75" stroke="#000" stroke-width="2.6" stroke-linecap="round"/>
<line x1="704.70" y1="562.80" x2="704.70" y2="568.70" stroke="#000" stroke-width="1.25" stroke-linecap="butt"/>
<line x1="704.70" y1="567.50" x2="704.70" y2="568.90" stroke="#000" stroke-width="2.6" stroke-linecap="round"/>
<line x1="704.70" y1="562.80" x2="699.59" y2="565.75" stroke="#000" stroke-width="1.25" stroke-linecap="butt"/>
<line x1="700.63" y1="565.15" x2="699.42" y2="565.85" stroke="#000" stroke-width="2.6" stroke-linecap="round"/>
<line x1="704.70" y1="562.80" x2="709.81" y2="565.75" stroke="#000" stroke-width="1.25" stroke-linecap="butt"/>
<line x1="708.77" y1="565.15" x2="709.98" y2="565.85" stroke="#000" stroke-width="2.6" stroke-linecap="round"/>
<ellipse cx="704.70" cy="562.80" rx="2.9" ry="2.1" fill="#000"/>
<line x1="805.30" y1="495.50" x2="846.20" y2="495.50" stroke="#000" stroke-width="3.8" stroke-linecap="round"/>
<line x1="825.40" y1="472.70" x2="825.40" y2="466.80" stroke="#000" stroke-width="1.25" stroke-linecap="butt"/>
<line x1="825.40" y1="468.00" x2="825.40" y2="466.60" stroke="#000" stroke-width="2.6" stroke-linecap="round"/>
<line x1="825.40" y1="472.70" x2="830.51" y2="469.75" stroke="#000" stroke-width="1.25" stroke-linecap="butt"/>
<line x1="829.47" y1="470.35" x2="830.68" y2="469.65" stroke="#000" stroke-width="2.6" stroke-linecap="round"/>
<line x1="825.40" y1="472.70" x2="820.29" y2="469.75" stroke="#000" stroke-width="1.25" stroke-linecap="butt"/>
<line x1="821.33" y1="470.35" x2="820.12" y2="469.65" stroke="#000" stroke-width="2.6" stroke-linecap="round"/>
<line x1="825.40" y1="472.70" x2="825.40" y2="478.60" stroke="#000" stroke-width="1.25" stroke-linecap="butt"/>
<line x1="825.40" y1="477.40" x2="825.40" y2="478.80" stroke="#000" stroke-width="2.6" stroke-linecap="round"/>
<line x1="825.40" y1="472.70" x2="820.29" y2="475.65" stroke="#000" stroke-width="1.25" stroke-linecap="butt"/>
<line x1="821.33" y1="475.05" x2="820.12" y2="475.75" stroke="#000" stroke-width="2.6" stroke-linecap="round"/>
<line x1="825.40" y1="472.70" x2="830.51" y2="475.65" stroke="#000" stroke-width="1.25" stroke-linecap="butt"/>
<line x1="829.47" y1="475.05" x2="830.68" y2="475.75" stroke="#000" stroke-width="2.6" stroke-linecap="round"/>
<ellipse cx="825.40" cy="472.70" rx="2.9" ry="2.1" fill="#000"/>
<line x1="186.10" y1="966.90" x2="252.60" y2="966.90" stroke="#000" stroke-width="3.8" stroke-linecap="round"/>
<line x1="302.70" y1="966.90" x2="369.20" y2="966.90" stroke="#000" stroke-width="3.8" stroke-linecap="round"/>
<line x1="423.60" y1="966.90" x2="489.90" y2="966.90" stroke="#000" stroke-width="3.8" stroke-linecap="round"/>
<line x1="544.40" y1="966.90" x2="611.00" y2="966.90" stroke="#000" stroke-width="3.8" stroke-linecap="round"/>
<line x1="665.10" y1="966.90" x2="731.60" y2="966.90" stroke="#000" stroke-width="3.8" stroke-linecap="round"/>
<line x1="692.20" y1="980.50" x2="730.60" y2="980.50" stroke="#000" stroke-width="3.8" stroke-linecap="round"/>
<line x1="785.90" y1="964.90" x2="852.20" y2="964.90" stroke="#000" stroke-width="3.8" stroke-linecap="round"/>
<line x1="815.30" y1="978.50" x2="853.50" y2="978.50" stroke="#000" stroke-width="3.8" stroke-linecap="round"/>
<line x1="219.50" y1="955.60" x2="219.50" y2="949.70" stroke="#000" stroke-width="1.25" stroke-linecap="butt"/>
<line x1="219.50" y1="950.90" x2="219.50" y2="949.50" stroke="#000" stroke-width="2.6" stroke-linecap="round"/>
<line x1="219.50" y1="955.60" x2="224.61" y2="952.65" stroke="#000" stroke-width="1.25" stroke-linecap="butt"/>
<line x1="223.57" y1="953.25" x2="224.78" y2="952.55" stroke="#000" stroke-width="2.6" stroke-linecap="round"/>
<line x1="219.50" y1="955.60" x2="214.39" y2="952.65" stroke="#000" stroke-width="1.25" stroke-linecap="butt"/>
<line x1="215.43" y1="953.25" x2="214.22" y2="952.55" stroke="#000" stroke-width="2.6" stroke-linecap="round"/>
<line x1="219.50" y1="955.60" x2="219.50" y2="961.50" stroke="#000" stroke-width="1.25" stroke-linecap="butt"/>
<line x1="219.50" y1="960.30" x2="219.50" y2="961.70" stroke="#000" stroke-width="2.6" stroke-linecap="round"/>
<line x1="219.50" y1="955.60" x2="214.39" y2="958.55" stroke="#000" stroke-width="1.25" stroke-linecap="butt"/>
<line x1="215.43" y1="957.95" x2="214.22" y2="958.65" stroke="#000" stroke-width="2.6" stroke-linecap="round"/>
<line x1="219.50" y1="955.60" x2="224.61" y2="958.55" stroke="#000" stroke-width="1.25" stroke-linecap="butt"/>
<line x1="223.57" y1="957.95" x2="224.78" y2="958.65" stroke="#000" stroke-width="2.6" stroke-linecap="round"/>
<ellipse cx="219.50" cy="955.60" rx="2.9" ry="2.1" fill="#000"/>
<line x1="336.50" y1="955.60" x2="336.50" y2="949.70" stroke="#000" stroke-width="1.25" stroke-linecap="butt"/>
<line x1="336.50" y1="950.90" x2="336.50" y2="949.50" stroke="#000" stroke-width="2.6" stroke-linecap="round"/>
<line x1="336.50" y1="955.60" x2="341.61" y2="952.65" stroke="#000" stroke-width="1.25" stroke-linecap="butt"/>
<line x1="340.57" y1="953.25" x2="341.78" y2="952.55" stroke="#000" stroke-width="2.6" stroke-linecap="round"/>
<line x1="336.50" y1="955.60" x2="331.39" y2="952.65" stroke="#000" stroke-width="1.25" stroke-linecap="butt"/>
<line x1="332.43" y1="953.25" x2="331.22" y2="952.55" stroke="#000" stroke-width="2.6" stroke-linecap="round"/>
<line x1="336.50" y1="955.60" x2="336.50" y2="961.50" stroke="#000" stroke-width="1.25" stroke-linecap="butt"/>
<line x1="336.50" y1="960.30" x2="336.50" y2="961.70" stroke="#000" stroke-width="2.6" stroke-linecap="round"/>
<line x1="336.50" y1="955.60" x2="331.39" y2="958.55" stroke="#000" stroke-width="1.25" stroke-linecap="butt"/>
<line x1="332.43" y1="957.95" x2="331.22" y2="958.65" stroke="#000" stroke-width="2.6" stroke-linecap="round"/>
<line x1="336.50" y1="955.60" x2="341.61" y2="958.55" stroke="#000" stroke-width="1.25" stroke-linecap="butt"/>
<line x1="340.57" y1="957.95" x2="341.78" y2="958.65" stroke="#000" stroke-width="2.6" stroke-linecap="round"/>
<ellipse cx="336.50" cy="955.60" rx="2.9" ry="2.1" fill="#000"/>
<line x1="457.20" y1="955.60" x2="457.20" y2="949.70" stroke="#000" stroke-width="1.25" stroke-linecap="butt"/>
<line x1="457.20" y1="950.90" x2="457.20" y2="949.50" stroke="#000" stroke-width="2.6" stroke-linecap="round"/>
<line x1="457.20" y1="955.60" x2="462.31" y2="952.65" stroke="#000" stroke-width="1.25" stroke-linecap="butt"/>
<line x1="461.27" y1="953.25" x2="462.48" y2="952.55" stroke="#000" stroke-width="2.6" stroke-linecap="round"/>
<line x1="457.20" y1="955.60" x2="452.09" y2="952.65" stroke="#000" stroke-width="1.25" stroke-linecap="butt"/>
<line x1="453.13" y1="953.25" x2="451.92" y2="952.55" stroke="#000" stroke-width="2.6" stroke-linecap="round"/>
<line x1="457.20" y1="955.60" x2="457.20" y2="961.50" stroke="#000" stroke-width="1.25" stroke-linecap="butt"/>
<line x1="457.20" y1="960.30" x2="457.20" y2="961.70" stroke="#000" stroke-width="2.6" stroke-linecap="round"/>
<line x1="457.20" y1="955.60" x2="452.09" y2="958.55" stroke="#000" stroke-width="1.25" stroke-linecap="butt"/>
<line x1="453.13" y1="957.95" x2="451.92" y2="958.65" stroke="#000" stroke-width="2.6" stroke-linecap="round"/>
<line x1="457.20" y1="955.60" x2="462.31" y2="958.55" stroke="#000" stroke-width="1.25" stroke-linecap="butt"/>
<line x1="461.27" y1="957.95" x2="462.48" y2="958.65" stroke="#000" stroke-width="2.6" stroke-linecap="round"/>
<ellipse cx="457.20" cy="955.60" rx="2.9" ry="2.1" fill="#000"/>
<line x1="578.20" y1="955.60" x2="578.20" y2="949.70" stroke="#000" stroke-width="1.25" stroke-linecap="butt"/>
<line x1="578.20" y1="950.90" x2="578.20" y2="949.50" stroke="#000" stroke-width="2.6" stroke-linecap="round"/>
<line x1="578.20" y1="955.60" x2="583.31" y2="952.65" stroke="#000" stroke-width="1.25" stroke-linecap="butt"/>
<line x1="582.27" y1="953.25" x2="583.48" y2="952.55" stroke="#000" stroke-width="2.6" stroke-linecap="round"/>
<line x1="578.20" y1="955.60" x2="573.09" y2="952.65" stroke="#000" stroke-width="1.25" stroke-linecap="butt"/>
<line x1="574.13" y1="953.25" x2="572.92" y2="952.55" stroke="#000" stroke-width="2.6" stroke-linecap="round"/>
<line x1="578.20" y1="955.60" x2="578.20" y2="961.50" stroke="#000" stroke-width="1.25" stroke-linecap="butt"/>
<line x1="578.20" y1="960.30" x2="578.20" y2="961.70" stroke="#000" stroke-width="2.6" stroke-linecap="round"/>
<line x1="578.20" y1="955.60" x2="573.09" y2="958.55" stroke="#000" stroke-width="1.25" stroke-linecap="butt"/>
<line x1="574.13" y1="957.95" x2="572.92" y2="958.65" stroke="#000" stroke-width="2.6" stroke-linecap="round"/>
<line x1="578.20" y1="955.60" x2="583.31" y2="958.55" stroke="#000" stroke-width="1.25" stroke-linecap="butt"/>
<line x1="582.27" y1="957.95" x2="583.48" y2="958.65" stroke="#000" stroke-width="2.6" stroke-linecap="round"/>
<ellipse cx="578.20" cy="955.60" rx="2.9" ry="2.1" fill="#000"/>
<line x1="698.50" y1="955.60" x2="698.50" y2="949.70" stroke="#000" stroke-width="1.25" stroke-linecap="butt"/>
<line x1="698.50" y1="950.90" x2="698.50" y2="949.50" stroke="#000" stroke-width="2.6" stroke-linecap="round"/>
<line x1="698.50" y1="955.60" x2="703.61" y2="952.65" stroke="#000" stroke-width="1.25" stroke-linecap="butt"/>
<line x1="702.57" y1="953.25" x2="703.78" y2="952.55" stroke="#000" stroke-width="2.6" stroke-linecap="round"/>
<line x1="698.50" y1="955.60" x2="693.39" y2="952.65" stroke="#000" stroke-width="1.25" stroke-linecap="butt"/>
<line x1="694.43" y1="953.25" x2="693.22" y2="952.55" stroke="#000" stroke-width="2.6" stroke-linecap="round"/>
<line x1="698.50" y1="955.60" x2="698.50" y2="961.50" stroke="#000" stroke-width="1.25" stroke-linecap="butt"/>
<line x1="698.50" y1="960.30" x2="698.50" y2="961.70" stroke="#000" stroke-width="2.6" stroke-linecap="round"/>
<line x1="698.50" y1="955.60" x2="693.39" y2="958.55" stroke="#000" stroke-width="1.25" stroke-linecap="butt"/>
<line x1="694.43" y1="957.95" x2="693.22" y2="958.65" stroke="#000" stroke-width="2.6" stroke-linecap="round"/>
<line x1="698.50" y1="955.60" x2="703.61" y2="958.55" stroke="#000" stroke-width="1.25" stroke-linecap="butt"/>
<line x1="702.57" y1="957.95" x2="703.78" y2="958.65" stroke="#000" stroke-width="2.6" stroke-linecap="round"/>
<ellipse cx="698.50" cy="955.60" rx="2.9" ry="2.1" fill="#000"/>
<line x1="819.50" y1="953.60" x2="819.50" y2="947.70" stroke="#000" stroke-width="1.25" stroke-linecap="butt"/>
<line x1="819.50" y1="948.90" x2="819.50" y2="947.50" stroke="#000" stroke-width="2.6" stroke-linecap="round"/>
<line x1="819.50" y1="953.60" x2="824.61" y2="950.65" stroke="#000" stroke-width="1.25" stroke-linecap="butt"/>
<line x1="823.57" y1="951.25" x2="824.78" y2="950.55" stroke="#000" stroke-width="2.6" stroke-linecap="round"/>
<line x1="819.50" y1="953.60" x2="814.39" y2="950.65" stroke="#000" stroke-width="1.25" stroke-linecap="butt"/>
<line x1="815.43" y1="951.25" x2="814.22" y2="950.55" stroke="#000" stroke-width="2.6" stroke-linecap="round"/>
<line x1="819.50" y1="953.60" x2="819.50" y2="959.50" stroke="#000" stroke-width="1.25" stroke-linecap="butt"/>
<line x1="819.50" y1="958.30" x2="819.50" y2="959.70" stroke="#000" stroke-width="2.6" stroke-linecap="round"/>
<line x1="819.50" y1="953.60" x2="814.39" y2="956.55" stroke="#000" stroke-width="1.25" stroke-linecap="butt"/>
<line x1="815.43" y1="955.95" x2="814.22" y2="956.65" stroke="#000" stroke-width="2.6" stroke-linecap="round"/>
<line x1="819.50" y1="953.60" x2="824.61" y2="956.55" stroke="#000" stroke-width="1.25" stroke-linecap="butt"/>
<line x1="823.57" y1="955.95" x2="824.78" y2="956.65" stroke="#000" stroke-width="2.6" stroke-linecap="round"/>
<ellipse cx="819.50" cy="953.60" rx="2.9" ry="2.1" fill="#000"/>
<line x1="655.30" y1="1449.70" x2="721.10" y2="1449.70" stroke="#000" stroke-width="3.8" stroke-linecap="round"/>
<line x1="687.50" y1="1437.00" x2="687.50" y2="1431.10" stroke="#000" stroke-width="1.25" stroke-linecap="butt"/>
<line x1="687.50" y1="1432.30" x2="687.50" y2="1430.90" stroke="#000" stroke-width="2.6" stroke-linecap="round"/>
<line x1="687.50" y1="1437.00" x2="692.61" y2="1434.05" stroke="#000" stroke-width="1.25" stroke-linecap="butt"/>
<line x1="691.57" y1="1434.65" x2="692.78" y2="1433.95" stroke="#000" stroke-width="2.6" stroke-linecap="round"/>
<line x1="687.50" y1="1437.00" x2="682.39" y2="1434.05" stroke="#000" stroke-width="1.25" stroke-linecap="butt"/>
<line x1="683.43" y1="1434.65" x2="682.22" y2="1433.95" stroke="#000" stroke-width="2.6" stroke-linecap="round"/>
<line x1="687.50" y1="1437.00" x2="687.50" y2="1442.90" stroke="#000" stroke-width="1.25" stroke-linecap="butt"/>
<line x1="687.50" y1="1441.70" x2="687.50" y2="1443.10" stroke="#000" stroke-width="2.6" stroke-linecap="round"/>
<line x1="687.50" y1="1437.00" x2="682.39" y2="1439.95" stroke="#000" stroke-width="1.25" stroke-linecap="butt"/>
<line x1="683.43" y1="1439.35" x2="682.22" y2="1440.05" stroke="#000" stroke-width="2.6" stroke-linecap="round"/>
<line x1="687.50" y1="1437.00" x2="692.61" y2="1439.95" stroke="#000" stroke-width="1.25" stroke-linecap="butt"/>
<line x1="691.57" y1="1439.35" x2="692.78" y2="1440.05" stroke="#000" stroke-width="2.6" stroke-linecap="round"/>
<ellipse cx="687.50" cy="1437.00" rx="2.9" ry="2.1" fill="#000"/>
<line x1="777.70" y1="1447.50" x2="836.20" y2="1447.50" stroke="#000" stroke-width="3.8" stroke-linecap="round"/>
<line x1="806.20" y1="1432.70" x2="806.20" y2="1426.80" stroke="#000" stroke-width="1.25" stroke-linecap="butt"/>
<line x1="806.20" y1="1428.00" x2="806.20" y2="1426.60" stroke="#000" stroke-width="2.6" stroke-linecap="round"/>
<line x1="806.20" y1="1432.70" x2="811.31" y2="1429.75" stroke="#000" stroke-width="1.25" stroke-linecap="butt"/>
<line x1="810.27" y1="1430.35" x2="811.48" y2="1429.65" stroke="#000" stroke-width="2.6" stroke-linecap="round"/>
<line x1="806.20" y1="1432.70" x2="801.09" y2="1429.75" stroke="#000" stroke-width="1.25" stroke-linecap="butt"/>
<line x1="802.13" y1="1430.35" x2="800.92" y2="1429.65" stroke="#000" stroke-width="2.6" stroke-linecap="round"/>
<line x1="806.20" y1="1432.70" x2="806.20" y2="1438.60" stroke="#000" stroke-width="1.25" stroke-linecap="butt"/>
<line x1="806.20" y1="1437.40" x2="806.20" y2="1438.80" stroke="#000" stroke-width="2.6" stroke-linecap="round"/>
<line x1="806.20" y1="1432.70" x2="801.09" y2="1435.65" stroke="#000" stroke-width="1.25" stroke-linecap="butt"/>
<line x1="802.13" y1="1435.05" x2="800.92" y2="1435.75" stroke="#000" stroke-width="2.6" stroke-linecap="round"/>
<line x1="806.20" y1="1432.70" x2="811.31" y2="1435.65" stroke="#000" stroke-width="1.25" stroke-linecap="butt"/>
<line x1="810.27" y1="1435.05" x2="811.48" y2="1435.75" stroke="#000" stroke-width="2.6" stroke-linecap="round"/>
<ellipse cx="806.20" cy="1432.70" rx="2.9" ry="2.1" fill="#000"/>
<g transform="translate(0.43,29.30) scale(1.0272,1)"><text font-size="34.00" font-weight="bold" fill="#111" stroke="#111" stroke-width="0.7">A</text></g>
<g transform="translate(0.03,459.40) scale(1.0752,1)"><text font-size="34.00" font-weight="bold" fill="#111" stroke="#111" stroke-width="0.7">B</text></g>
<g transform="translate(1.38,914.80) scale(1.0463,1)"><text font-size="34.00" font-weight="bold" fill="#111" stroke="#111" stroke-width="0.7">C</text></g>
<g transform="translate(0.84,1392.60) scale(1.0708,1)"><text font-size="34.00" font-weight="bold" fill="#111" stroke="#111" stroke-width="0.7">D</text></g>
<g transform="translate(404.14,27.10) scale(1.0184,1)"><text font-size="36.40" fill="#141414" stroke="#fff" stroke-width="0.2">Pyoverdine</text></g>
<line x1="404.20" y1="32.70" x2="589.30" y2="32.70" stroke="#0a0a0a" stroke-width="2.0" stroke-linecap="butt"/>
<g transform="translate(426.83,461.90) scale(1.0110,1)"><text font-size="35.60" fill="#141414" stroke="#fff" stroke-width="0.2">Pyocyanin</text></g>
<line x1="426.80" y1="467.00" x2="591.80" y2="467.00" stroke="#0a0a0a" stroke-width="2.0" stroke-linecap="butt"/>
<g transform="translate(381.51,916.10) scale(1.0526,1)"><text font-size="35.60" fill="#141414" stroke="#fff" stroke-width="0.2">Protease</text></g>
<g transform="translate(537.69,916.10) scale(0.9949,1)"><text font-size="35.60" fill="#141414" stroke="#fff" stroke-width="0.2">activity</text></g>
<line x1="381.60" y1="922.00" x2="647.20" y2="922.00" stroke="#0a0a0a" stroke-width="2.0" stroke-linecap="butt"/>
<g transform="translate(384.96,1392.90) scale(1.0366,1)"><text font-size="35.60" fill="#141414" stroke="#fff" stroke-width="0.2">Rhamnolipids</text></g>
<line x1="385.00" y1="1398.80" x2="608.60" y2="1398.80" stroke="#0a0a0a" stroke-width="2.0" stroke-linecap="butt"/>
<g transform="translate(82.45,66.60) scale(0.9598,1)"><text font-size="32.50" fill="#141414" stroke="#fff" stroke-width="0.1">0.06</text></g>
<g transform="translate(82.45,108.15) scale(0.9598,1)"><text font-size="32.50" fill="#141414" stroke="#fff" stroke-width="0.1">0.05</text></g>
<g transform="translate(82.45,149.70) scale(0.9598,1)"><text font-size="32.50" fill="#141414" stroke="#fff" stroke-width="0.1">0.04</text></g>
<g transform="translate(82.45,191.25) scale(0.9598,1)"><text font-size="32.50" fill="#141414" stroke="#fff" stroke-width="0.1">0.03</text></g>
<g transform="translate(82.45,232.80) scale(0.9598,1)"><text font-size="32.50" fill="#141414" stroke="#fff" stroke-width="0.1">0.02</text></g>
<g transform="translate(82.45,274.35) scale(0.9598,1)"><text font-size="32.50" fill="#141414" stroke="#fff" stroke-width="0.1">0.01</text><rect x="46.80" y="-3.58" width="6.48" height="4.39" fill="#fff"/><rect x="56.28" y="-3.58" width="6.13" height="4.39" fill="#fff"/></g>
<g transform="translate(82.45,315.90) scale(0.9598,1)"><text font-size="32.50" fill="#141414" stroke="#fff" stroke-width="0.1">0.00</text></g>
<g transform="translate(74.34,525.20) scale(0.9655,1)"><text font-size="32.50" fill="#141414" stroke="#fff" stroke-width="0.1">0.10</text><rect x="28.73" y="-3.58" width="6.48" height="4.39" fill="#fff"/><rect x="38.20" y="-3.58" width="6.13" height="4.39" fill="#fff"/></g>
<g transform="translate(74.34,574.58) scale(0.9655,1)"><text font-size="32.50" fill="#141414" stroke="#fff" stroke-width="0.1">0.08</text></g>
<g transform="translate(74.34,623.96) scale(0.9655,1)"><text font-size="32.50" fill="#141414" stroke="#fff" stroke-width="0.1">0.06</text></g>
<g transform="translate(74.34,673.34) scale(0.9655,1)"><text font-size="32.50" fill="#141414" stroke="#fff" stroke-width="0.1">0.04</text></g>
<g transform="translate(74.34,722.72) scale(0.9655,1)"><text font-size="32.50" fill="#141414" stroke="#fff" stroke-width="0.1">0.02</text></g>
<g transform="translate(74.34,772.10) scale(0.9655,1)"><text font-size="32.50" fill="#141414" stroke="#fff" stroke-width="0.1">0.00</text></g>
<g transform="translate(91.19,957.40) scale(0.9487,1)"><text font-size="32.50" fill="#141414" stroke="#fff" stroke-width="0.1">1.4</text><rect x="1.62" y="-3.58" width="6.48" height="4.39" fill="#fff"/><rect x="11.10" y="-3.58" width="6.13" height="4.39" fill="#fff"/></g>
<g transform="translate(91.19,998.89) scale(0.9487,1)"><text font-size="32.50" fill="#141414" stroke="#fff" stroke-width="0.1">1.2</text><rect x="1.62" y="-3.58" width="6.48" height="4.39" fill="#fff"/><rect x="11.10" y="-3.58" width="6.13" height="4.39" fill="#fff"/></g>
<g transform="translate(91.19,1040.38) scale(0.9487,1)"><text font-size="32.50" fill="#141414" stroke="#fff" stroke-width="0.1">1.0</text><rect x="1.62" y="-3.58" width="6.48" height="4.39" fill="#fff"/><rect x="11.10" y="-3.58" width="6.13" height="4.39" fill="#fff"/></g>
<g transform="translate(91.19,1081.87) scale(0.9487,1)"><text font-size="32.50" fill="#141414" stroke="#fff" stroke-width="0.1">0.8</text></g>
<g transform="translate(91.19,1123.36) scale(0.9487,1)"><text font-size="32.50" fill="#141414" stroke="#fff" stroke-width="0.1">0.6</text></g>
<g transform="translate(91.19,1164.85) scale(0.9487,1)"><text font-size="32.50" fill="#141414" stroke="#fff" stroke-width="0.1">0.4</text></g>
<g transform="translate(91.19,1206.34) scale(0.9487,1)"><text font-size="32.50" fill="#141414" stroke="#fff" stroke-width="0.1">0.2</text></g>
<g transform="translate(91.19,1247.83) scale(0.9487,1)"><text font-size="32.50" fill="#141414" stroke="#fff" stroke-width="0.1">0.0</text></g>
<g transform="translate(99.11,1449.60) scale(0.9804,1)"><text font-size="32.50" fill="#141414" stroke="#fff" stroke-width="0.1">25</text></g>
<g transform="translate(99.11,1504.10) scale(0.9804,1)"><text font-size="32.50" fill="#141414" stroke="#fff" stroke-width="0.1">20</text></g>
<g transform="translate(99.11,1558.60) scale(0.9804,1)"><text font-size="32.50" fill="#141414" stroke="#fff" stroke-width="0.1">15</text><rect x="1.62" y="-3.58" width="6.48" height="4.39" fill="#fff"/><rect x="11.10" y="-3.58" width="6.13" height="4.39" fill="#fff"/></g>
<g transform="translate(99.11,1613.10) scale(0.9804,1)"><text font-size="32.50" fill="#141414" stroke="#fff" stroke-width="0.1">10</text><rect x="1.62" y="-3.58" width="6.48" height="4.39" fill="#fff"/><rect x="11.10" y="-3.58" width="6.13" height="4.39" fill="#fff"/></g>
<g transform="translate(108.64,1667.60) scale(0.9717,1)"><text font-size="32.50" fill="#141414" stroke="#fff" stroke-width="0.1">5</text></g>
<g transform="translate(108.64,1722.10) scale(0.9717,1)"><text font-size="32.50" fill="#141414" stroke="#fff" stroke-width="0.1">0</text></g>
<line x1="118.00" y1="1727.50" x2="125.00" y2="1727.50" stroke="#0a0a0a" stroke-width="1.6" stroke-linecap="butt"/>
<text transform="translate(48.80,327.11) rotate(-90) scale(0.9328,1)" font-size="33.00" fill="#141414" stroke="#fff" stroke-width="0.25">absorbance (405nm)</text>
<text transform="translate(34.00,774.72) rotate(-90) scale(0.9401,1)" font-size="33.00" fill="#141414" stroke="#fff" stroke-width="0.25">absorbance (520nm)</text>
<text transform="translate(54.60,1236.50) rotate(-90) scale(0.9294,1)" font-size="33.00" fill="#141414" stroke="#fff" stroke-width="0.25">absorbance (420nm)</text>
<text transform="translate(60.80,1711.55) rotate(-90) scale(0.9373,1)" font-size="33.00" fill="#141414" stroke="#fff" stroke-width="0.25">Diameter of halo (mm)</text>
<g transform="translate(204.91,349.40) scale(1.0260,1)"><text font-size="29.50" fill="#141414" stroke="#fff" stroke-width="0.1">ctrl</text></g>
<g transform="translate(295.75,349.40) scale(1.0020,1)"><text font-size="29.50" fill="#141414" stroke="#fff" stroke-width="0.1">microb</text></g>
<g transform="translate(438.81,349.40) scale(1.0260,1)"><text font-size="29.50" fill="#141414" stroke="#fff" stroke-width="0.1">ctrl</text></g>
<g transform="translate(529.75,349.40) scale(1.0020,1)"><text font-size="29.50" fill="#141414" stroke="#fff" stroke-width="0.1">microb</text></g>
<g transform="translate(672.71,349.40) scale(1.0260,1)"><text font-size="29.50" fill="#141414" stroke="#fff" stroke-width="0.1">ctrl</text></g>
<g transform="translate(763.75,349.40) scale(1.0020,1)"><text font-size="29.50" fill="#141414" stroke="#fff" stroke-width="0.1">microb</text></g>
<g transform="translate(267.07,394.20) scale(1.0415,1)"><text font-size="29.50" fill="#141414" stroke="#fff" stroke-width="0.1">L1</text><rect x="17.88" y="-3.25" width="5.89" height="3.98" fill="#fff"/><rect x="26.48" y="-3.25" width="5.56" height="3.98" fill="#fff"/></g>
<g transform="translate(501.25,394.20) scale(0.9641,1)"><text font-size="29.50" fill="#141414" stroke="#fff" stroke-width="0.1">L2</text></g>
<g transform="translate(734.50,394.20) scale(0.9843,1)"><text font-size="29.50" fill="#141414" stroke="#fff" stroke-width="0.1">L3</text></g>
<g transform="translate(199.45,804.80) scale(1.0398,1)"><text font-size="29.50" fill="#141414" stroke="#fff" stroke-width="0.1">ctrl</text></g>
<g transform="translate(289.68,804.80) scale(1.0641,1)"><text font-size="29.50" fill="#141414" stroke="#fff" stroke-width="0.1">microb</text></g>
<g transform="translate(435.05,804.80) scale(1.0398,1)"><text font-size="29.50" fill="#141414" stroke="#fff" stroke-width="0.1">ctrl</text></g>
<g transform="translate(525.35,804.80) scale(1.0782,1)"><text font-size="29.50" fill="#141414" stroke="#fff" stroke-width="0.1">microb</text></g>
<g transform="translate(673.15,804.80) scale(1.0398,1)"><text font-size="29.50" fill="#141414" stroke="#fff" stroke-width="0.1">ctrl</text></g>
<g transform="translate(760.91,804.80) scale(1.0723,1)"><text font-size="29.50" fill="#141414" stroke="#fff" stroke-width="0.1">microb</text></g>
<g transform="translate(259.16,850.60) scale(1.1874,1)"><text font-size="29.50" fill="#141414" stroke="#fff" stroke-width="0.1">L1</text><rect x="17.88" y="-3.25" width="5.89" height="3.98" fill="#fff"/><rect x="26.48" y="-3.25" width="5.56" height="3.98" fill="#fff"/></g>
<g transform="translate(495.50,850.60) scale(1.1097,1)"><text font-size="29.50" fill="#141414" stroke="#fff" stroke-width="0.1">L2</text></g>
<g transform="translate(732.57,850.60) scale(1.1219,1)"><text font-size="29.50" fill="#141414" stroke="#fff" stroke-width="0.1">L3</text></g>
<g transform="translate(197.31,1280.40) scale(1.0260,1)"><text font-size="29.50" fill="#141414" stroke="#fff" stroke-width="0.1">ctrl</text></g>
<g transform="translate(291.86,1280.40) scale(0.9973,1)"><text font-size="29.50" fill="#141414" stroke="#fff" stroke-width="0.1">microb</text></g>
<g transform="translate(435.11,1280.40) scale(1.0260,1)"><text font-size="29.50" fill="#141414" stroke="#fff" stroke-width="0.1">ctrl</text></g>
<g transform="translate(529.91,1280.40) scale(1.0008,1)"><text font-size="29.50" fill="#141414" stroke="#fff" stroke-width="0.1">microb</text></g>
<g transform="translate(672.91,1280.40) scale(1.0260,1)"><text font-size="29.50" fill="#141414" stroke="#fff" stroke-width="0.1">ctrl</text></g>
<g transform="translate(766.95,1280.40) scale(1.0044,1)"><text font-size="29.50" fill="#141414" stroke="#fff" stroke-width="0.1">microb</text></g>
<g transform="translate(260.98,1324.00) scale(1.0749,1)"><text font-size="29.50" fill="#141414" stroke="#fff" stroke-width="0.1">L1</text><rect x="17.88" y="-3.25" width="5.89" height="3.98" fill="#fff"/><rect x="26.48" y="-3.25" width="5.56" height="3.98" fill="#fff"/></g>
<g transform="translate(498.75,1324.00) scale(1.0057,1)"><text font-size="29.50" fill="#141414" stroke="#fff" stroke-width="0.1">L2</text></g>
<g transform="translate(735.62,1324.00) scale(1.0187,1)"><text font-size="29.50" fill="#141414" stroke="#fff" stroke-width="0.1">L3</text></g>
<g transform="translate(193.85,1756.00) scale(1.0343,1)"><text font-size="29.50" fill="#141414" stroke="#fff" stroke-width="0.1">ctrl</text></g>
<g transform="translate(288.48,1756.00) scale(0.9903,1)"><text font-size="29.50" fill="#141414" stroke="#fff" stroke-width="0.1">microb</text></g>
<g transform="translate(431.45,1756.00) scale(1.0343,1)"><text font-size="29.50" fill="#141414" stroke="#fff" stroke-width="0.1">ctrl</text></g>
<g transform="translate(525.09,1756.00) scale(1.0079,1)"><text font-size="29.50" fill="#141414" stroke="#fff" stroke-width="0.1">microb</text></g>
<g transform="translate(668.65,1756.00) scale(1.0343,1)"><text font-size="29.50" fill="#141414" stroke="#fff" stroke-width="0.1">ctrl</text></g>
<g transform="translate(763.05,1756.00) scale(1.0067,1)"><text font-size="29.50" fill="#141414" stroke="#fff" stroke-width="0.1">microb</text></g>
<g transform="translate(258.86,1800.80) scale(1.0624,1)"><text font-size="29.50" fill="#141414" stroke="#fff" stroke-width="0.1">L1</text><rect x="17.88" y="-3.25" width="5.89" height="3.98" fill="#fff"/><rect x="26.48" y="-3.25" width="5.56" height="3.98" fill="#fff"/></g>
<g transform="translate(494.88,1800.80) scale(1.0334,1)"><text font-size="29.50" fill="#141414" stroke="#fff" stroke-width="0.1">L2</text></g>
<g transform="translate(732.79,1800.80) scale(0.9911,1)"><text font-size="29.50" fill="#141414" stroke="#fff" stroke-width="0.1">L3</text></g>
<rect x="884.20" y="132.40" width="15.60" height="15.00" fill="#1a1a1a" stroke="#0a0a0a" stroke-width="2.0" stroke-linejoin="round"/>
<g transform="translate(905.67,148.30) scale(0.9872,1)"><text font-size="33.00" fill="#141414" stroke="#fff" stroke-width="0.1">T0</text></g>
<rect x="884.20" y="192.70" width="15.60" height="15.30" fill="#a6a6a6" stroke="#0a0a0a" stroke-width="2.0" stroke-linejoin="round"/>
<g transform="translate(905.62,209.00) scale(1.0511,1)"><text font-size="33.00" fill="#141414" stroke="#fff" stroke-width="0.1">T1</text><rect x="21.81" y="-3.63" width="6.58" height="4.46" fill="#fff"/><rect x="31.43" y="-3.63" width="6.22" height="4.46" fill="#fff"/></g>
<rect x="884.20" y="253.00" width="15.60" height="15.50" fill="#ffffff" stroke="#0a0a0a" stroke-width="2.0" stroke-linejoin="round"/>
<g transform="translate(905.68,269.50) scale(0.9763,1)"><text font-size="33.00" fill="#141414" stroke="#fff" stroke-width="0.1">T18</text><rect x="21.81" y="-3.63" width="6.58" height="4.46" fill="#fff"/><rect x="31.43" y="-3.63" width="6.22" height="4.46" fill="#fff"/></g>
<rect x="917.20" y="560.80" width="15.60" height="15.60" fill="#1a1a1a" stroke="#0a0a0a" stroke-width="2.0" stroke-linejoin="round"/>
<g transform="translate(938.97,577.40) scale(0.9872,1)"><text font-size="33.00" fill="#141414" stroke="#fff" stroke-width="0.1">T0</text></g>
<rect x="917.20" y="627.40" width="15.60" height="15.20" fill="#a6a6a6" stroke="#0a0a0a" stroke-width="2.0" stroke-linejoin="round"/>
<g transform="translate(938.92,644.50) scale(1.0511,1)"><text font-size="33.00" fill="#141414" stroke="#fff" stroke-width="0.1">T1</text><rect x="21.81" y="-3.63" width="6.58" height="4.46" fill="#fff"/><rect x="31.43" y="-3.63" width="6.22" height="4.46" fill="#fff"/></g>
<rect x="917.20" y="695.30" width="15.60" height="15.20" fill="#ffffff" stroke="#0a0a0a" stroke-width="2.0" stroke-linejoin="round"/>
<g transform="translate(938.98,711.50) scale(0.9763,1)"><text font-size="33.00" fill="#141414" stroke="#fff" stroke-width="0.1">T18</text><rect x="21.81" y="-3.63" width="6.58" height="4.46" fill="#fff"/><rect x="31.43" y="-3.63" width="6.22" height="4.46" fill="#fff"/></g>
<rect x="896.80" y="1030.80" width="15.00" height="15.00" fill="#2d2d2d" stroke="#0a0a0a" stroke-width="2.0" stroke-linejoin="round"/>
<g transform="translate(916.87,1046.80) scale(0.9872,1)"><text font-size="33.00" fill="#141414" stroke="#fff" stroke-width="0.1">T0</text></g>
<rect x="896.80" y="1102.20" width="15.00" height="15.10" fill="#a6a6a6" stroke="#0a0a0a" stroke-width="2.0" stroke-linejoin="round"/>
<g transform="translate(916.82,1118.30) scale(1.0511,1)"><text font-size="33.00" fill="#141414" stroke="#fff" stroke-width="0.1">T1</text><rect x="21.81" y="-3.63" width="6.58" height="4.46" fill="#fff"/><rect x="31.43" y="-3.63" width="6.22" height="4.46" fill="#fff"/></g>
<rect x="896.80" y="1173.70" width="15.00" height="15.10" fill="#ffffff" stroke="#0a0a0a" stroke-width="2.0" stroke-linejoin="round"/>
<g transform="translate(916.88,1189.80) scale(0.9763,1)"><text font-size="33.00" fill="#141414" stroke="#fff" stroke-width="0.1">T18</text><rect x="21.81" y="-3.63" width="6.58" height="4.46" fill="#fff"/><rect x="31.43" y="-3.63" width="6.22" height="4.46" fill="#fff"/></g>
<rect x="905.90" y="1491.60" width="15.40" height="15.10" fill="#2d2d2d" stroke="#0a0a0a" stroke-width="2.0" stroke-linejoin="round"/>
<g transform="translate(926.77,1507.70) scale(0.9872,1)"><text font-size="33.00" fill="#141414" stroke="#fff" stroke-width="0.1">T0</text></g>
<rect x="905.90" y="1564.00" width="15.40" height="15.20" fill="#a6a6a6" stroke="#0a0a0a" stroke-width="2.0" stroke-linejoin="round"/>
<g transform="translate(926.72,1581.00) scale(1.0511,1)"><text font-size="33.00" fill="#141414" stroke="#fff" stroke-width="0.1">T1</text><rect x="21.81" y="-3.63" width="6.58" height="4.46" fill="#fff"/><rect x="31.43" y="-3.63" width="6.22" height="4.46" fill="#fff"/></g>
<rect x="905.90" y="1638.00" width="15.40" height="15.40" fill="#ffffff" stroke="#0a0a0a" stroke-width="2.0" stroke-linejoin="round"/>
<g transform="translate(926.78,1654.60) scale(0.9763,1)"><text font-size="33.00" fill="#141414" stroke="#fff" stroke-width="0.1">T18</text><rect x="21.81" y="-3.63" width="6.58" height="4.46" fill="#fff"/><rect x="31.43" y="-3.63" width="6.22" height="4.46" fill="#fff"/></g>
</svg>
</body></html>
